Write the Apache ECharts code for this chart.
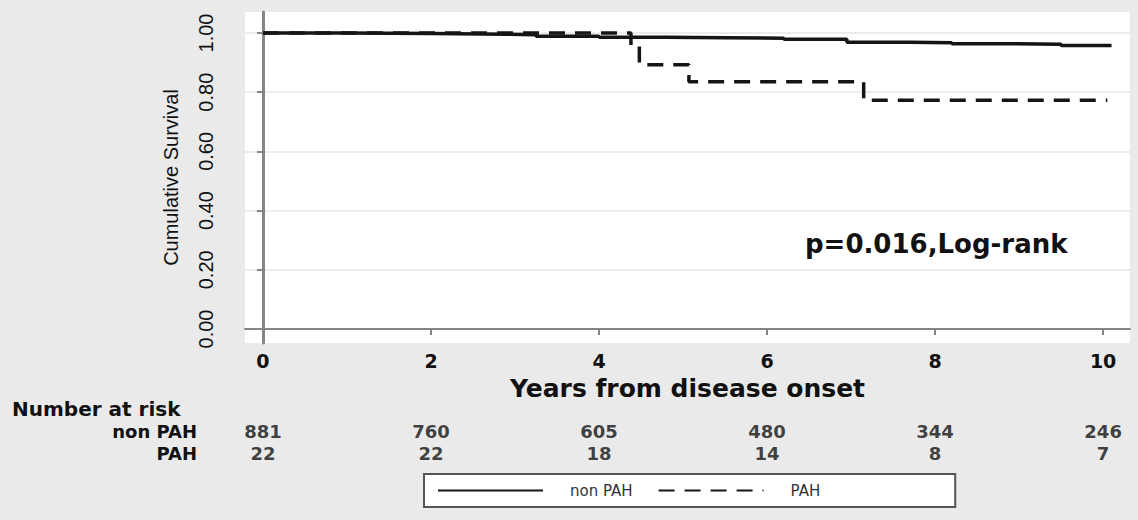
<!DOCTYPE html>
<html>
<head>
<meta charset="utf-8">
<title>Cumulative Survival</title>
<script src="https://cdn.jsdelivr.net/npm/echarts@6/dist/echarts.min.js"></script>
<style>
  html, body { margin: 0; padding: 0; background: #eaeaea; }
  #main { width: 1138px; height: 520px; }
</style>
</head>
<body>
<div id="main"></div>
<script>
  // survival curves (years, cumulative survival)
  var nonPahYears = [0, 1.0, 2.0, 2.9, 3.25, 4.0, 4.8, 5.5, 6.2, 6.95, 7.7, 8.2, 8.9, 9.5, 10.1];
  var nonPahSurv  = [1.000, 0.998, 0.996, 0.994, 0.989, 0.986, 0.984, 0.982, 0.979, 0.969, 0.967, 0.964, 0.962, 0.958, 0.958];
  var pahYears = [0, 4.38, 4.48, 5.07, 7.15, 10.05];
  var pahSurv  = [1.000, 0.955, 0.893, 0.835, 0.773, 0.773];

  // axes
  var xTicks = [0, 2, 4, 6, 8, 10];
  var yTicks = [0, 0.2, 0.4, 0.6, 0.8, 1.0];

  // number at risk table
  var riskGroups = ['non PAH', 'PAH'];
  var riskNonPah = [881, 760, 605, 480, 344, 246];
  var riskPah    = [22, 22, 18, 14, 8, 7];

  var narrowFont = "'Liberation Sans', Arial, sans-serif";
  var wideFont = "'DejaVu Sans', Verdana, sans-serif";

  function pairs (xs, ys) {
    var out = [];
    for (var i = 0; i < xs.length; i++) out.push([xs[i], ys[i]]);
    return out;
  }

  var riskData = [];
  for (var i = 0; i < xTicks.length; i++) {
    riskData.push({ value: [xTicks[i], riskGroups[0], riskNonPah[i]] });
    riskData.push({ value: [xTicks[i], riskGroups[1], riskPah[i]] });
  }

  var xMin = -0.214, xMax = 10.32;

  var chart = echarts.init(document.getElementById('main'), null, { renderer: 'svg' });
  chart.setOption({
    backgroundColor: '#eaeaea',
    animation: false,
    grid: [
      { left: 245, right: 8, top: 12, bottom: 177, show: true, backgroundColor: '#fff', borderWidth: 0 },
      // risk table rows
      { left: 245, right: 8, top: 420, height: 44 }
    ],
    xAxis: [
      {
        type: 'value', gridIndex: 0, min: xMin, max: xMax,
        name: 'Years from disease onset', nameLocation: 'middle', nameGap: 33, nameMoveOverlap: false,
        nameTextStyle: { fontFamily: wideFont, fontWeight: 'bold', fontSize: 25, lineHeight: 25, color: '#111' },
        axisLine: { lineStyle: { color: '#858585', width: 2 } },
        axisTick: { customValues: xTicks, length: 6, lineStyle: { color: '#858585', width: 2 } },
        axisLabel: { customValues: xTicks, margin: 8, fontFamily: wideFont, fontWeight: 'bold', fontSize: 19, lineHeight: 19, color: '#111' },
        splitLine: { show: false }
      },
      { type: 'value', gridIndex: 1, min: xMin, max: xMax, show: false }
    ],
    yAxis: [
      {
        type: 'value', gridIndex: 0, min: -0.0473, max: 1.0709,
        name: 'Cumulative Survival', nameLocation: 'middle', nameGap: 64, nameRotate: 90,
        nameTextStyle: { fontFamily: narrowFont, fontSize: 20, color: '#111' },
        axisLine: { show: true, lineStyle: { color: '#858585', width: 3 } },
        axisTick: { show: true, customValues: yTicks, length: 6, lineStyle: { color: '#858585', width: 2 } },
        axisLabel: {
          customValues: yTicks, rotate: 90, margin: 29,
          fontFamily: narrowFont, fontSize: 20, color: '#111',
          formatter: function (v) { return v.toFixed(2) }
        },
        splitLine: { show: true, lineStyle: { color: '#e6e6e6', width: 1.5 } }
      },
      {
        type: 'category', gridIndex: 1, data: riskGroups, inverse: true,
        axisLine: { show: false }, axisTick: { show: false }, splitLine: { show: false },
        axisLabel: { interval: 0, margin: 48, fontFamily: wideFont, fontWeight: 'bold', fontSize: 18, lineHeight: 18, color: '#111' }
      }
    ],
    legend: {
      data: ['non PAH', 'PAH'],
      left: 424, top: 474,
      padding: [9, 135, 9, 13],
      itemGap: 25, itemWidth: 105, itemHeight: 14,
      itemStyle: { opacity: 0 },
      backgroundColor: '#fff', borderColor: '#555', borderWidth: 2,
      textStyle: { fontFamily: wideFont, fontSize: 15, color: '#333', padding: [0, 0, 0, 22] }
    },
    graphic: [
      {
        type: 'text', left: 805, top: 231,
        style: { text: 'p=0.016,Log-rank', font: "bold 26px 'DejaVu Sans', sans-serif", fill: '#111' }
      },
      {
        type: 'text', left: 12, top: 399,
        style: { text: 'Number at risk', font: "bold 20px 'DejaVu Sans', sans-serif", fill: '#111' }
      }
    ],
    series: [
      {
        name: 'non PAH', type: 'line', step: 'end', symbol: 'none',
        xAxisIndex: 0, yAxisIndex: 0,
        data: pairs(nonPahYears, nonPahSurv),
        lineStyle: { color: '#151515', width: 3.5 },
        itemStyle: { color: '#151515' }, z: 3
      },
      {
        name: 'PAH', type: 'line', step: 'end', symbol: 'none',
        xAxisIndex: 0, yAxisIndex: 0,
        data: pairs(pahYears, pahSurv),
        lineStyle: { color: '#151515', width: 3.5, type: [16, 10] },
        itemStyle: { color: '#151515' }, z: 2
      },
      {
        name: 'risk', type: 'scatter', xAxisIndex: 1, yAxisIndex: 1,
        symbolSize: 0, silent: true,
        data: riskData,
        label: {
          show: true, position: 'inside',
          fontFamily: wideFont, fontWeight: 'bold', fontSize: 18, lineHeight: 18, color: '#111',
          formatter: function (p) { return p.value[2] }
        }
      }
    ]
  });
</script>
</body>
</html>
